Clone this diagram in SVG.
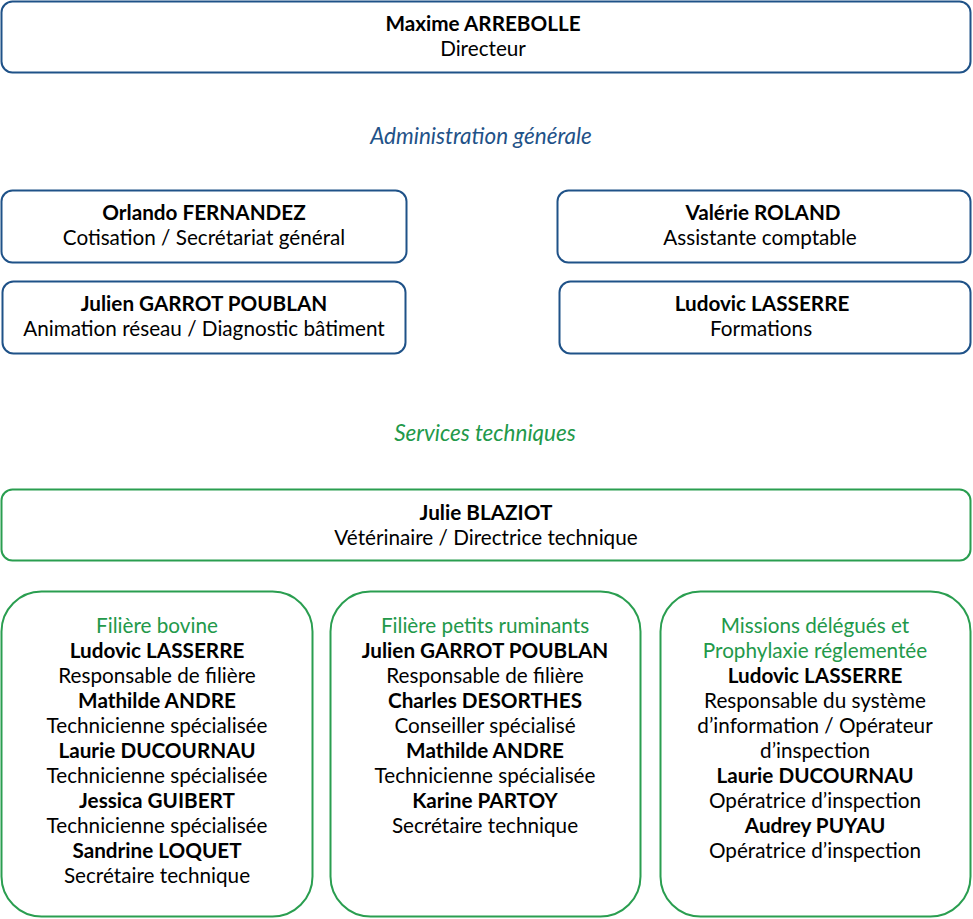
<svg xmlns="http://www.w3.org/2000/svg" width="973" height="919" viewBox="0 0 973 919">
<style>
text{font-family:Lato,"Open Sans","Liberation Sans",sans-serif;font-size:20.7px;fill:#000;text-anchor:middle}
.b{font-weight:bold}
.blue{fill:none;stroke:#1F5288;stroke-width:2}
.green{fill:none;stroke:#2A9E50;stroke-width:2}
.hb{fill:#1F5288;font-style:italic;font-size:22.5px}
.hg{fill:#22994A;font-style:italic;font-size:22.5px}
.tg{fill:#22994A}
</style>
<rect width="973" height="919" fill="#fff"/>
<g id="connectors"></g>
<g id="directeur">
<rect class="blue" x="1.5" y="1.5" width="969" height="71" rx="11"/>
<text class="b" x="483" y="31">Maxime ARREBOLLE</text>
<text x="483" y="56">Directeur</text>
</g>
<text class="hb" x="481" y="144">Administration générale</text>
<g id="fernandez">
<rect class="blue" x="1.5" y="190.5" width="405" height="72" rx="11"/>
<text class="b" x="204" y="220">Orlando FERNANDEZ</text>
<text x="204" y="245">Cotisation / Secrétariat général</text>
</g>
<g id="roland">
<rect class="blue" x="557.5" y="190.5" width="413" height="72" rx="11"/>
<text class="b" x="763" y="220">Valérie ROLAND</text>
<text x="760" y="245">Assistante comptable</text>
</g>
<g id="garrot">
<rect class="blue" x="2.5" y="281.5" width="403" height="72" rx="11"/>
<text class="b" x="204" y="311">Julien GARROT POUBLAN</text>
<text x="204" y="336">Animation réseau / Diagnostic bâtiment</text>
</g>
<g id="lasserre">
<rect class="blue" x="559.5" y="281.5" width="411" height="72" rx="11"/>
<text class="b" x="762" y="311">Ludovic LASSERRE</text>
<text x="761" y="336">Formations</text>
</g>
<text class="hg" x="485" y="441">Services techniques</text>
<g id="blaziot">
<rect class="green" x="1.5" y="489.5" width="969" height="71" rx="11"/>
<text class="b" x="486" y="520">Julie BLAZIOT</text>
<text x="486" y="545">Vétérinaire / Directrice technique</text>
</g>
<g id="bovine">
<rect class="green" x="1.5" y="591.5" width="311" height="325" rx="40"/>
<text class="tg" x="157" y="633">Filière bovine</text>
<text class="b" x="157" y="658">Ludovic LASSERRE</text>
<text x="157" y="683">Responsable de filière</text>
<text class="b" x="157" y="708">Mathilde ANDRE</text>
<text x="157" y="733">Technicienne spécialisée</text>
<text class="b" x="157" y="758">Laurie DUCOURNAU</text>
<text x="157" y="783">Technicienne spécialisée</text>
<text class="b" x="157" y="808">Jessica GUIBERT</text>
<text x="157" y="833">Technicienne spécialisée</text>
<text class="b" x="157" y="858">Sandrine LOQUET</text>
<text x="157" y="883">Secrétaire technique</text>
</g>
<g id="petits-ruminants">
<rect class="green" x="330.5" y="591.5" width="310" height="325" rx="40"/>
<text class="tg" x="485" y="633">Filière petits ruminants</text>
<text class="b" x="485" y="658">Julien GARROT POUBLAN</text>
<text x="485" y="683">Responsable de filière</text>
<text class="b" x="485" y="708">Charles DESORTHES</text>
<text x="485" y="733">Conseiller spécialisé</text>
<text class="b" x="485" y="758">Mathilde ANDRE</text>
<text x="485" y="783">Technicienne spécialisée</text>
<text class="b" x="485" y="808">Karine PARTOY</text>
<text x="485" y="833">Secrétaire technique</text>
</g>
<g id="missions">
<rect class="green" x="660.5" y="591.5" width="310" height="325" rx="40"/>
<text class="tg" x="815" y="633">Missions délégués et</text>
<text class="tg" x="815" y="658">Prophylaxie réglementée</text>
<text class="b" x="815" y="683">Ludovic LASSERRE</text>
<text x="815" y="708">Responsable du système</text>
<text x="815" y="733">d’information / Opérateur</text>
<text x="815" y="758">d’inspection</text>
<text class="b" x="815" y="783">Laurie DUCOURNAU</text>
<text x="815" y="808">Opératrice d’inspection</text>
<text class="b" x="815" y="833">Audrey PUYAU</text>
<text x="815" y="858">Opératrice d’inspection</text>
</g>
</svg>
